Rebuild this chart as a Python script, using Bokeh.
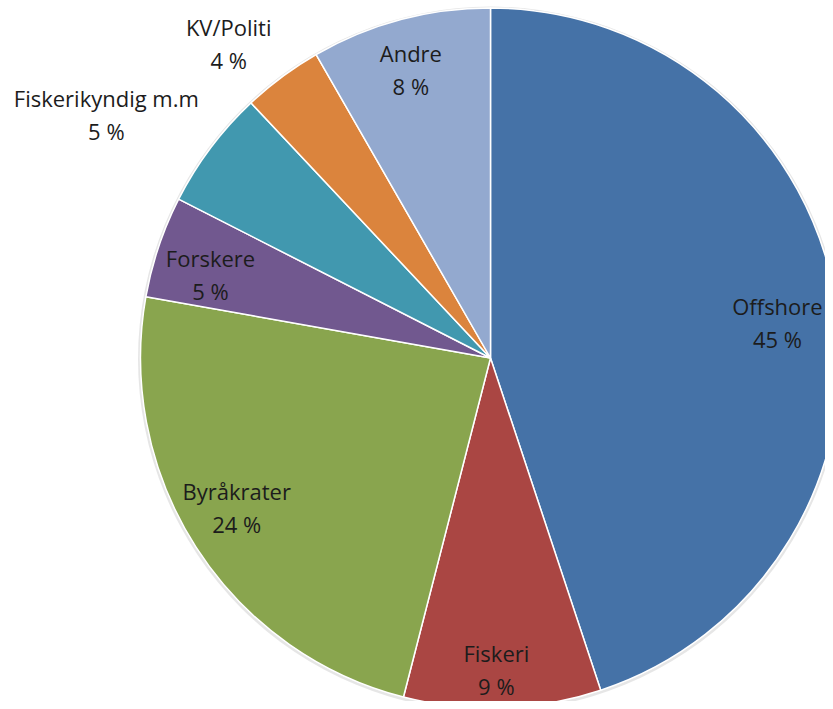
import math
from bokeh.plotting import figure
from bokeh.models import ColumnDataSource, Range1d
from bokeh.core.properties import value
from bokeh.embed import file_html
from bokeh.resources import INLINE

# ---- data ----
categories = ["Offshore", "Fiskeri", "Byråkrater", "Forskere", "Fiskerikyndig m.m", "KV/Politi", "Andre"]
shares = [44.9, 9.1, 23.8, 4.7, 5.5, 3.7, 8.3]
pct_labels = ["45 %", "9 %", "24 %", "5 %", "5 %", "4 %", "8 %"]
colors = ["#4572A7", "#AA4643", "#89A54E", "#71588F", "#4198AF", "#DB843D", "#93A9CF"]

# ---- layout (label placement: angle tweak in degrees, radius factor) ----
label_angle_tweak = [2.2, 0.9, 2.2, -1.9, -4.5, -3.2, -0.5]
label_radius = [0.826, 0.889, 0.842, 0.835, 1.30, 1.17, 0.855]

W, H = 825, 701
cx, cy, R = 490, -357.5, 350

total = sum(shares)
starts, ends, lx, ly, texts = [], [], [], [], []
acc = 0.0
for i, s in enumerate(shares):
    a0 = math.pi / 2 - 2 * math.pi * acc / total
    acc += s
    a1 = math.pi / 2 - 2 * math.pi * acc / total
    starts.append(a0)
    ends.append(a1)
    mid_deg = 360.0 * (acc - s / 2) / total + label_angle_tweak[i]
    th = math.radians(mid_deg)
    r = label_radius[i] * R
    lx.append(cx + r * math.sin(th))
    ly.append(cy + r * math.cos(th))
    texts.append(categories[i] + "\n" + pct_labels[i])

src = ColumnDataSource(dict(start=starts, end=ends, color=colors,
                            x=[cx] * len(shares), y=[cy] * len(shares)))
lsrc = ColumnDataSource(dict(x=lx, y=ly, text=texts))

p = figure(width=W, height=H, output_backend="svg", toolbar_location=None,
           x_range=Range1d(0, W), y_range=Range1d(-H, 0),
           min_border=0, outline_line_color=None, background_fill_color="white",
           border_fill_color="white")
p.axis.visible = False
p.grid.visible = False

# soft shadow
p.circle(x=[cx], y=[cy - 1], radius=R + 2.5, fill_color="#d6d6d6", fill_alpha=0.6, line_color=None)

p.wedge(x="x", y="y", radius=R, start_angle="start", end_angle="end", direction="clock",
        fill_color="color", line_color="white", line_width=1.5, source=src)

p.text(x="x", y="y", text="text", source=lsrc, text_align="center", text_baseline="middle",
       text_font=value("Open Sans"), text_font_size="22px", text_color="#1c1c1c",
       text_line_height=1.1)

open("out.html", "w").write(file_html(p, INLINE))
